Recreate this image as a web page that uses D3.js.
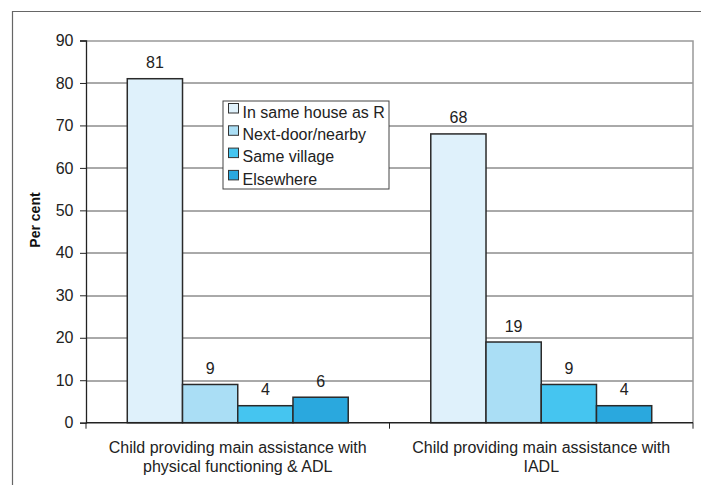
<!DOCTYPE html>
<html>
<head>
<meta charset="utf-8">
<script src="https://cdn.jsdelivr.net/npm/d3@7"></script>
<style>
  html, body { margin: 0; padding: 0; background: #fff; }
  svg { display: block; font-family: "Liberation Sans", Arial, sans-serif; }
</style>
</head>
<body>
<svg id="chart" width="701" height="485"></svg>
<script>
// Care categories along the x axis (two-line labels)
const categories = [
  ["Child providing main assistance with", "physical functioning & ADL"],
  ["Child providing main assistance with", "IADL"]
];
// Where the child providing help lives
const seriesNames = ["In same house as R", "Next-door/nearby", "Same village", "Elsewhere"];
const seriesColors = ["#dff1fb", "#aadef5", "#45c5f0", "#2aa8de"];
// Per cent values, one array per category, in series order
const adlValues = [81, 9, 4, 6];
const iadlValues = [68, 19, 9, 4];
const yTicks = [0, 10, 20, 30, 40, 50, 60, 70, 80, 90];

const values = [adlValues, iadlValues];

const svg = d3.select("#chart");
const margin = { left: 86, right: 8, top: 40.5, bottom: 62.3 };
const W = 701, H = 485;
const plotW = W - margin.left - margin.right;
const plotH = H - margin.top - margin.bottom;
const FONT = 16;

// Outer frame
svg.append("path")
  .attr("d", `M12.5,${H} V11.5 H${W}`)
  .attr("fill", "none").attr("stroke", "#666").attr("stroke-width", 1.2);

const g = svg.append("g").attr("transform", `translate(${margin.left},${margin.top})`);

const x0 = d3.scaleBand().domain(d3.range(categories.length)).range([0, plotW]).paddingInner(0).paddingOuter(0);
const innerPad = (1 - 0.728) / 2;
const x1 = d3.scaleBand().domain(d3.range(seriesNames.length))
  .range([x0.bandwidth() * innerPad, x0.bandwidth() * (1 - innerPad)]).padding(0);
const y = d3.scaleLinear().domain([0, 90]).range([plotH, 0]);

// Grid lines
g.append("g").selectAll("line").data(yTicks.filter(t => t > 0 && t < 90)).join("line")
  .attr("x1", 0).attr("x2", plotW)
  .attr("y1", d => Math.round(y(d)) + 0.5).attr("y2", d => Math.round(y(d)) + 0.5)
  .attr("stroke", "#555").attr("stroke-width", 1);

// Plot border (top and right)
g.append("path")
  .attr("d", `M0,${Math.round(y(90)) + 0.5} H${plotW} V${plotH}`)
  .attr("fill", "none").attr("stroke", "#999").attr("stroke-width", 1.5);

// Bars
const groups = g.append("g").selectAll("g").data(values).join("g")
  .attr("transform", (d, i) => `translate(${x0(i)},0)`);
groups.selectAll("rect").data(d => d).join("rect")
  .attr("x", (d, i) => x1(i))
  .attr("y", d => y(d))
  .attr("width", x1.bandwidth())
  .attr("height", d => y(0) - y(d))
  .attr("fill", (d, i) => seriesColors[i])
  .attr("stroke", "#2a2a2a").attr("stroke-width", 1.5);

// Value labels
groups.selectAll("text").data(d => d).join("text")
  .attr("x", (d, i) => x1(i) + x1.bandwidth() / 2)
  .attr("y", d => y(d) - 10.5)
  .attr("text-anchor", "middle")
  .attr("font-size", FONT).attr("fill", "#222")
  .text(d => d);

// Y axis
const yAxis = g.append("g").call(d3.axisLeft(y).tickValues(yTicks).tickSize(6).tickPadding(6.5));
yAxis.select(".domain").attr("stroke", "#222").attr("stroke-width", 1.3);
yAxis.selectAll(".tick line").attr("stroke", "#222");
yAxis.selectAll(".tick text").attr("font-size", FONT).attr("fill", "#222")
  .attr("font-family", "Liberation Sans, Arial, sans-serif");

// X axis baseline with category separators
const xAxisG = g.append("g").attr("transform", `translate(0,${plotH})`);
xAxisG.append("line").attr("x1", 0).attr("x2", plotW).attr("y1", 0).attr("y2", 0)
  .attr("stroke", "#222").attr("stroke-width", 1.5);
xAxisG.selectAll("line.sep").data(d3.range(categories.length + 1)).join("line")
  .attr("class", "sep")
  .attr("x1", i => i * x0.bandwidth()).attr("x2", i => i * x0.bandwidth())
  .attr("y1", 0).attr("y2", 6).attr("stroke", "#222");

// Category labels
xAxisG.selectAll("text.cat").data(categories).join("text")
  .attr("class", "cat")
  .attr("text-anchor", "middle")
  .attr("font-size", FONT).attr("fill", "#222")
  .attr("transform", (d, i) => `translate(${x0(i) + x0.bandwidth() / 2},0)`)
  .selectAll("tspan").data(d => d).join("tspan")
  .attr("x", 0).attr("y", (d, j) => 30 + j * 19)
  .text(d => d);

// Y axis title
svg.append("text")
  .attr("transform", "translate(40,220) rotate(-90)")
  .attr("text-anchor", "middle")
  .attr("font-size", 14).attr("font-weight", "bold").attr("fill", "#111")
  .text("Per cent");

// Legend
const legend = svg.append("g").attr("transform", "translate(223,101)");
legend.append("rect").attr("x", 0).attr("y", 0).attr("width", 166).attr("height", 88)
  .attr("fill", "#fff").attr("stroke", "#444").attr("stroke-width", 1);
const items = legend.selectAll("g.item").data(seriesNames).join("g")
  .attr("class", "item")
  .attr("transform", (d, i) => `translate(5.5,${2.5 + i * 22.3})`);
items.append("rect").attr("width", 10).attr("height", 9.5)
  .attr("fill", (d, i) => seriesColors[i]).attr("stroke", "#333").attr("stroke-width", 1);
items.append("text").attr("x", 14).attr("y", 14.2)
  .attr("font-size", FONT).attr("fill", "#222").text(d => d);
</script>
</body>
</html>
